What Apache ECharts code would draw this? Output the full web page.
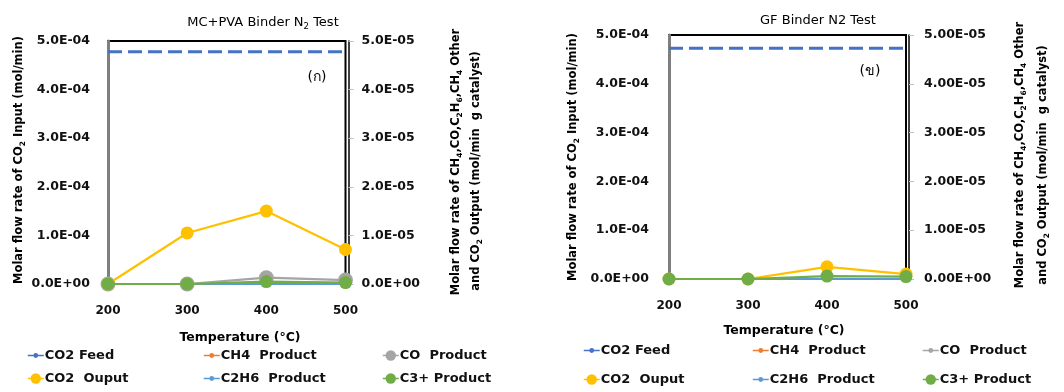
<!DOCTYPE html>
<html><head><meta charset="utf-8">
<script src="https://cdn.jsdelivr.net/npm/echarts@6/dist/echarts.min.js"></script>
<style>html,body{margin:0;padding:0;background:#fff}#a,#b{position:absolute;top:0;width:532px;height:392px}#a{left:0}#b{left:532px}</style>
</head><body><div id="a"></div><div id="b"></div>
<script>
// ---- data ----
const temps = ['200', '300', '400', '500'];
const seriesNames = ['CO2 Feed', 'CH4  Product', 'CO  Product', 'CO2  Ouput', 'C2H6  Product', 'C3+ Product'];
// chart (ก) MC+PVA Binder N2 Test
const a_co2Feed = [4.78e-4, 4.78e-4, 4.78e-4, 4.78e-4];   // left axis
const a_ch4 = [0, 0, 0, 0];
const a_co = [0, 0, 1.3e-6, 0.8e-6];
const a_co2Out = [0, 1.05e-5, 1.5e-5, 7.1e-6];
const a_c2h6 = [0, 0, 0, 0];
const a_c3 = [0, 0, 5e-7, 3e-7];
// chart (ข) GF Binder N2 Test
const b_co2Feed = [4.73e-4, 4.73e-4, 4.73e-4, 4.73e-4];
const b_ch4 = [0, 0, 0, 0];
const b_co = [0, 0, 0, 0];
const b_co2Out = [0, 0, 2.5e-6, 1.0e-6];
const b_c2h6 = [0, 0, 0, 0];
const b_c3 = [0, 0, 6e-7, 5e-7];

const FONT = 'DejaVu Sans';
const W = 'bold';
function sci(v, d) {
  const s = Number(v).toExponential(d).split('e');
  let e = parseInt(s[1], 10);
  const sign = e < 0 ? '-' : '+';
  e = Math.abs(e);
  return s[0] + 'E' + sign + (e < 10 ? '0' + e : '' + e);
}
const rich = {
  t: {fontFamily: FONT, fontWeight: W, fontSize: 11.5, color: '#111', lineHeight: 16, verticalAlign: 'middle'},
  s: {fontFamily: FONT, fontWeight: W, fontSize: 7.5, color: '#111', lineHeight: 16, verticalAlign: 'bottom'}
};
const richX = {
  t: {fontFamily: FONT, fontWeight: W, fontSize: 12.5, color: '#111', lineHeight: 16, verticalAlign: 'middle'}
};
const richRed = {
  t: {fontFamily: FONT, fontSize: 13, color: '#ff0000', lineHeight: 16, verticalAlign: 'middle'},
  s: {fontFamily: FONT, fontSize: 8.5, color: '#ff0000', lineHeight: 16, verticalAlign: 'bottom'}
};
function txt(x, y, text, r, rot) {
  return {type: 'text', x: x, y: y, rotation: rot || 0, z: 100,
    style: {text: text, rich: r, align: 'center', verticalAlign: 'middle', textAlign: 'center', textVerticalAlign: 'middle'}};
}

function build(c) {
  const colors = ['#4472C4', '#ED7D31', '#A5A5A5', '#FFC000', '#5B9BD5', '#70AD47'];
  const data = c.data;
  const sizes = c.sizes;
  const series = seriesNames.map((n, i) => ({
    name: n, type: 'line', data: data[i], yAxisIndex: i === 0 ? 0 : 1,
    symbol: 'circle', symbolSize: sizes[i], showSymbol: i !== 0,
    lineStyle: i === 0 ? {color: colors[i], width: 3, type: [14, 6]} : {color: colors[i], width: 2.2},
    itemStyle: {color: colors[i]}, animation: false, z: 2 + i
  }));
  const legends = [];
  const cols = c.legendCols, rows = c.legendRows;
  seriesNames.forEach((n, i) => {
    const col = i % 3, row = Math.floor(i / 3);
    const ih = sizes[i] > 8 ? 13 : 6;
    legends.push({
      data: [n], left: cols[col], top: rows[row] - 9, itemWidth: 16, itemHeight: ih, itemGap: 0, padding: 0,
      lineStyle: {type: 'solid', width: 1.5},
      textStyle: {fontFamily: FONT, fontWeight: W, fontSize: 13, color: '#111', padding: [0, 0, 0, -4]}, selectedMode: false
    });
  });
  const lab = {fontFamily: FONT, fontWeight: W, fontSize: 12.5, color: '#111'};
  return {
    backgroundColor: '#fff',
    animation: false,
    grid: {left: c.grid[0], top: c.grid[1], width: c.grid[2], height: c.grid[3], show: true, borderColor: '#000', borderWidth: 2, backgroundColor: 'transparent'},
    xAxis: {type: 'category', data: temps, boundaryGap: false,
      axisLine: {lineStyle: {color: '#000', width: 1.5}}, axisTick: {show: false},
      axisLabel: Object.assign({}, lab, {fontSize: 12, margin: 21})},
    yAxis: [
      {type: 'value', min: 0, max: 5e-4, interval: 1e-4, position: 'left',
        axisLine: {show: true, lineStyle: {color: '#7f7f7f', width: 3}}, axisTick: {show: false}, splitLine: {show: false},
        axisLabel: Object.assign({}, lab, {margin: c.lm, formatter: v => sci(v, 1)})},
      {type: 'value', min: 0, max: 5e-5, interval: 1e-5, position: 'right', offset: 3,
        axisLine: {show: true, lineStyle: {color: '#000', width: 1.5}}, axisTick: {show: true, length: 5, lineStyle: {color: '#bfbfbf'}}, splitLine: {show: false},
        axisLabel: Object.assign({}, lab, {margin: c.rm, formatter: v => sci(v, c.rd)})}
    ],
    legend: legends,
    series: series,
    graphic: c.texts
  };
}

const chartA = echarts.init(document.getElementById('a'));
chartA.setOption(build({
  data: [a_co2Feed, a_ch4, a_co, a_co2Out, a_c2h6, a_c3],
  sizes: [5, 5, 15, 13, 5, 13],
  grid: [108, 41, 237.5, 243], lm: 18, rm: 13, rd: 1,
  legendCols: [27, 203, 382], legendRows: [358, 381],
  texts: [
    txt(263, 23, '{t|MC+PVA Binder N}{s|2}{t| Test}', richRed),
    txt(317, 77, '{t|(ก)}', {t: {fontFamily: FONT, fontSize: 14, color: '#000'}}),
    txt(19, 160, '{t|Molar flow rate of CO}{s|2}{t| Input (mol/min)}', rich, Math.PI / 2),
    txt(456, 162, '{t|Molar flow rate of CH}{s|4}{t|,CO,C}{s|2}{t|H}{s|6}{t|,CH}{s|4}{t| Other}', rich, Math.PI / 2),
    txt(476, 171, '{t|and CO}{s|2}{t| Output (mol/min  g catalyst)}', rich, Math.PI / 2),
    txt(240, 338, '{t|Temperature (°C)}', richX)
  ]
}));

const chartB = echarts.init(document.getElementById('b'));
chartB.setOption(build({
  data: [b_co2Feed, b_ch4, b_co, b_co2Out, b_c2h6, b_c3],
  sizes: [5, 5, 5, 13, 5, 13],
  grid: [137, 35, 237, 244], lm: 20, rm: 15, rd: 2,
  legendCols: [51, 220, 390], legendRows: [353, 382],
  texts: [
    txt(286, 21, '{t|GF Binder N2 Test}', richRed),
    txt(338, 71, '{t|(ข)}', {t: {fontFamily: FONT, fontSize: 14, color: '#000'}}),
    txt(41, 157, '{t|Molar flow rate of CO}{s|2}{t| Input (mol/min)}', rich, Math.PI / 2),
    txt(488, 155, '{t|Molar flow rate of CH}{s|4}{t|,CO,C}{s|2}{t|H}{s|6}{t|,CH}{s|4}{t| Other}', rich, Math.PI / 2),
    txt(511, 165, '{t|and CO}{s|2}{t| Output (mol/min  g catalyst)}', rich, Math.PI / 2),
    txt(252, 331, '{t|Temperature (°C)}', richX)
  ]
}));
</script></body></html>
